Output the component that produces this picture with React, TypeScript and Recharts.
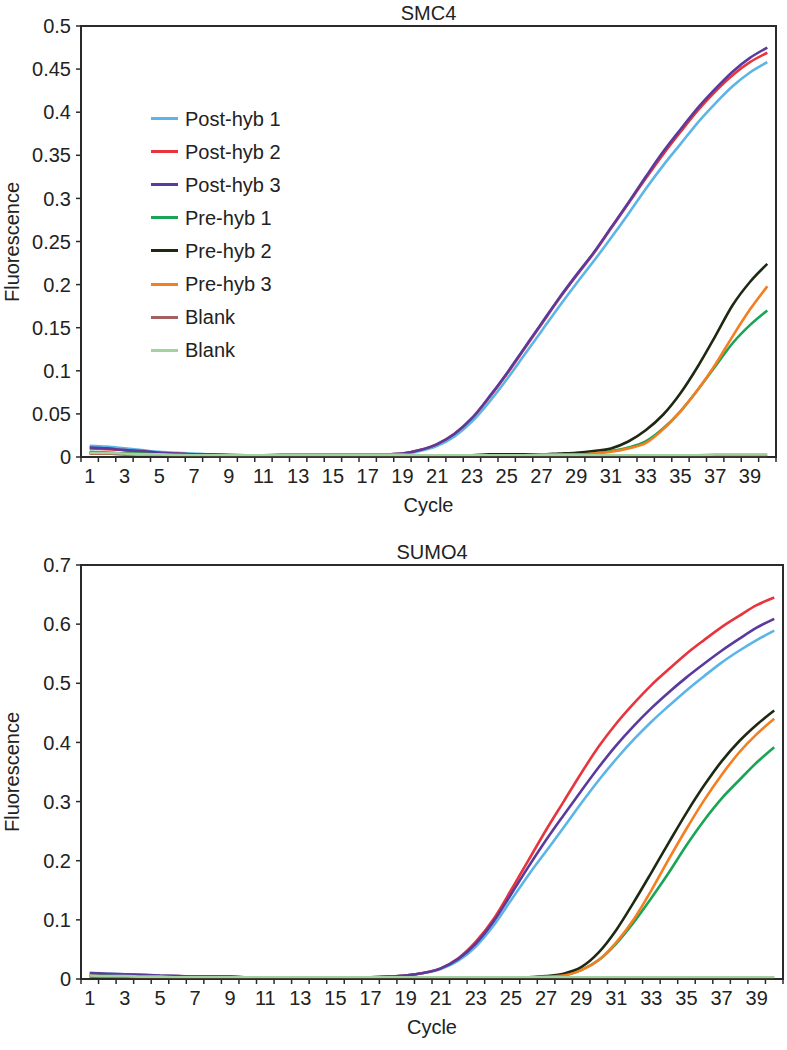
import React from 'react';
import { LineChart, Line, XAxis, YAxis, Legend, usePlotArea } from 'recharts';

// categories (PCR cycles)
const cycles = [1, 2, 3, 4, 5, 6, 7, 8, 9, 10, 11, 12, 13, 14, 15, 16, 17, 18, 19, 20,
  21, 22, 23, 24, 25, 26, 27, 28, 29, 30, 31, 32, 33, 34, 35, 36, 37, 38, 39, 40];
const cycleLabels = [1, 3, 5, 7, 9, 11, 13, 15, 17, 19, 21, 23, 25, 27, 29, 31, 33, 35, 37, 39];

const smc4Ticks = [0, 0.05, 0.1, 0.15, 0.2, 0.25, 0.3, 0.35, 0.4, 0.45, 0.5];
const sumo4Ticks = [0, 0.1, 0.2, 0.3, 0.4, 0.5, 0.6, 0.7];

// SMC4
const smc4PostHyb1 = [0.013, 0.012, 0.010, 0.008, 0.006, 0.005, 0.004, 0.003, 0.003, 0.002, 0.002, 0.002, 0.002, 0.002, 0.002, 0.002, 0.002, 0.003, 0.004, 0.007,
  0.013, 0.024, 0.041, 0.064, 0.090, 0.118, 0.146, 0.174, 0.201, 0.227, 0.254, 0.282, 0.311, 0.338, 0.363, 0.388, 0.410, 0.430, 0.446, 0.458];
const smc4PostHyb2 = [0.010, 0.009, 0.008, 0.006, 0.005, 0.004, 0.003, 0.003, 0.002, 0.002, 0.002, 0.002, 0.002, 0.002, 0.002, 0.002, 0.002, 0.003, 0.004, 0.008,
  0.015, 0.027, 0.045, 0.069, 0.096, 0.125, 0.154, 0.183, 0.210, 0.236, 0.265, 0.294, 0.323, 0.351, 0.377, 0.402, 0.424, 0.443, 0.458, 0.469];
const smc4PostHyb3 = [0.011, 0.010, 0.008, 0.007, 0.005, 0.004, 0.003, 0.003, 0.002, 0.002, 0.002, 0.002, 0.002, 0.002, 0.002, 0.002, 0.002, 0.003, 0.004, 0.008,
  0.015, 0.027, 0.045, 0.070, 0.097, 0.126, 0.155, 0.184, 0.211, 0.237, 0.266, 0.295, 0.325, 0.354, 0.380, 0.405, 0.427, 0.447, 0.463, 0.475];
const smc4PreHyb1 = [0.006, 0.005, 0.004, 0.004, 0.003, 0.003, 0.002, 0.002, 0.002, 0.002, 0.002, 0.002, 0.002, 0.002, 0.002, 0.002, 0.002, 0.002, 0.002, 0.002,
  0.002, 0.002, 0.002, 0.002, 0.002, 0.003, 0.003, 0.003, 0.003, 0.004, 0.007, 0.011, 0.018, 0.033, 0.053, 0.078, 0.105, 0.132, 0.153, 0.170];
const smc4PreHyb2 = [0.005, 0.005, 0.004, 0.003, 0.003, 0.002, 0.002, 0.002, 0.002, 0.002, 0.002, 0.002, 0.002, 0.002, 0.002, 0.002, 0.002, 0.002, 0.002, 0.002,
  0.002, 0.002, 0.002, 0.003, 0.003, 0.003, 0.003, 0.004, 0.005, 0.007, 0.010, 0.018, 0.031, 0.049, 0.074, 0.105, 0.140, 0.176, 0.203, 0.224];
const smc4PreHyb3 = [0.004, 0.004, 0.003, 0.003, 0.003, 0.002, 0.002, 0.002, 0.002, 0.002, 0.002, 0.003, 0.003, 0.003, 0.003, 0.003, 0.003, 0.003, 0.003, 0.002,
  0.002, 0.002, 0.002, 0.002, 0.002, 0.002, 0.003, 0.003, 0.003, 0.004, 0.006, 0.010, 0.016, 0.032, 0.053, 0.078, 0.107, 0.140, 0.171, 0.198];
const smc4Blank1 = [0.004, 0.004, 0.003, 0.003, 0.002, 0.002, 0.002, 0.001, 0.001, 0.001, 0.001, 0.001, 0.001, 0.001, 0.001, 0.001, 0.001, 0.001, 0.001, 0.001,
  0.001, 0.001, 0.001, 0.001, 0.001, 0.001, 0.001, 0.001, 0.001, 0.001, 0.001, 0.001, 0.001, 0.001, 0.001, 0.001, 0.001, 0.001, 0.001, 0.001];
const smc4Blank2 = [0.005, 0.005, 0.004, 0.003, 0.003, 0.002, 0.002, 0.002, 0.002, 0.002, 0.002, 0.002, 0.002, 0.002, 0.002, 0.002, 0.002, 0.002, 0.002, 0.002,
  0.002, 0.002, 0.002, 0.002, 0.002, 0.002, 0.002, 0.002, 0.002, 0.002, 0.002, 0.002, 0.002, 0.002, 0.002, 0.002, 0.003, 0.003, 0.003, 0.003];

// SUMO4
const sumo4PostHyb1 = [0.010, 0.009, 0.008, 0.007, 0.006, 0.005, 0.004, 0.004, 0.004, 0.003, 0.003, 0.003, 0.003, 0.003, 0.003, 0.003, 0.003, 0.004, 0.006, 0.010,
  0.017, 0.031, 0.055, 0.090, 0.133, 0.176, 0.216, 0.256, 0.297, 0.336, 0.372, 0.405, 0.435, 0.462, 0.488, 0.512, 0.535, 0.555, 0.573, 0.589];
const sumo4PostHyb2 = [0.009, 0.008, 0.007, 0.006, 0.005, 0.005, 0.004, 0.004, 0.004, 0.003, 0.003, 0.003, 0.003, 0.003, 0.003, 0.003, 0.003, 0.004, 0.006, 0.010,
  0.018, 0.035, 0.063, 0.101, 0.150, 0.201, 0.252, 0.300, 0.348, 0.393, 0.432, 0.466, 0.497, 0.524, 0.550, 0.573, 0.595, 0.614, 0.632, 0.645];
const sumo4PostHyb3 = [0.010, 0.009, 0.008, 0.007, 0.006, 0.005, 0.004, 0.004, 0.004, 0.003, 0.003, 0.003, 0.003, 0.003, 0.003, 0.003, 0.003, 0.004, 0.006, 0.010,
  0.018, 0.034, 0.060, 0.097, 0.143, 0.190, 0.235, 0.277, 0.318, 0.358, 0.395, 0.428, 0.458, 0.485, 0.510, 0.533, 0.555, 0.575, 0.594, 0.609];
const sumo4PreHyb1 = [0.005, 0.005, 0.004, 0.004, 0.003, 0.003, 0.003, 0.003, 0.003, 0.002, 0.002, 0.002, 0.002, 0.002, 0.002, 0.002, 0.002, 0.002, 0.002, 0.002,
  0.002, 0.002, 0.002, 0.002, 0.002, 0.002, 0.003, 0.006, 0.015, 0.032, 0.060, 0.096, 0.137, 0.180, 0.226, 0.268, 0.305, 0.336, 0.366, 0.392];
const sumo4PreHyb2 = [0.005, 0.005, 0.004, 0.004, 0.003, 0.003, 0.003, 0.003, 0.003, 0.002, 0.002, 0.002, 0.002, 0.002, 0.002, 0.002, 0.002, 0.002, 0.002, 0.002,
  0.002, 0.002, 0.002, 0.002, 0.002, 0.003, 0.005, 0.009, 0.020, 0.045, 0.083, 0.130, 0.180, 0.231, 0.281, 0.327, 0.368, 0.402, 0.430, 0.454];
const sumo4PreHyb3 = [0.004, 0.004, 0.004, 0.003, 0.003, 0.003, 0.003, 0.003, 0.002, 0.002, 0.002, 0.002, 0.002, 0.002, 0.002, 0.002, 0.002, 0.002, 0.002, 0.002,
  0.002, 0.002, 0.002, 0.002, 0.002, 0.003, 0.004, 0.006, 0.015, 0.032, 0.062, 0.101, 0.150, 0.203, 0.254, 0.302, 0.345, 0.383, 0.414, 0.440];
const sumo4Blank1 = [0.004, 0.004, 0.003, 0.003, 0.003, 0.002, 0.002, 0.002, 0.002, 0.002, 0.002, 0.002, 0.002, 0.002, 0.002, 0.002, 0.002, 0.002, 0.002, 0.002,
  0.002, 0.002, 0.002, 0.002, 0.002, 0.002, 0.002, 0.002, 0.002, 0.002, 0.002, 0.002, 0.002, 0.002, 0.002, 0.002, 0.002, 0.002, 0.002, 0.002];
const sumo4Blank2 = [0.006, 0.005, 0.005, 0.004, 0.004, 0.003, 0.003, 0.003, 0.003, 0.003, 0.003, 0.003, 0.003, 0.003, 0.003, 0.003, 0.003, 0.003, 0.003, 0.003,
  0.003, 0.003, 0.003, 0.003, 0.003, 0.003, 0.003, 0.003, 0.003, 0.003, 0.003, 0.003, 0.003, 0.003, 0.003, 0.003, 0.003, 0.003, 0.003, 0.003];

const seriesNames = ['Post-hyb 1', 'Post-hyb 2', 'Post-hyb 3', 'Pre-hyb 1', 'Pre-hyb 2', 'Pre-hyb 3', 'Blank', 'Blank'];
const seriesColors = ['#5bb5e6', '#e8343c', '#5a3a9c', '#19a556', '#1e2912', '#f47e20', '#a45f60', '#a2d39e'];
const seriesKeys = ['s0', 's1', 's2', 's3', 's4', 's5', 's6', 's7'];

const buildRows = (series: number[][]) =>
  cycles.map((c, i) => {
    const row: Record<string, number> = { cycle: c };
    series.forEach((s, k) => { row[seriesKeys[k]] = s[i]; });
    return row;
  });

const smc4Data = buildRows([smc4PostHyb1, smc4PostHyb2, smc4PostHyb3, smc4PreHyb1, smc4PreHyb2, smc4PreHyb3, smc4Blank1, smc4Blank2]);
const sumo4Data = buildRows([sumo4PostHyb1, sumo4PostHyb2, sumo4PostHyb3, sumo4PreHyb1, sumo4PreHyb2, sumo4PreHyb3, sumo4Blank1, sumo4Blank2]);

// tick marks sit on band edges, labels on odd cycle centres
const bandEdges = [...cycles.map((c) => c - 0.5), cycles[cycles.length - 1] + 0.5];
const xTicks = [...bandEdges, ...cycleLabels].sort((a, b) => a - b);
const xDomain: [number, number] = [bandEdges[0], bandEdges[bandEdges.length - 1]];

const INK = '#222';
const AXIS = '#2b2b2b';
const FONT = '"Liberation Sans", Arial, Helvetica, sans-serif';
const axisLineStyle = { stroke: AXIS, strokeWidth: 1.5 };

const CycleTick = (props: any) => {
  const { x, y, payload } = props;
  const v = payload.value;
  if (Number.isInteger(v)) {
    return (
      <text x={x} y={y} dy={21} textAnchor="middle" fontSize={20} fill={INK} fontFamily={FONT}>
        {v}
      </text>
    );
  }
  return <line x1={x} x2={x} y1={y - 5} y2={y} stroke={AXIS} strokeWidth={1.5} />;
};

const fmtY = (v: number) => String(+v.toFixed(2));

// box round the plot area, taken from the chart's own layout
const PlotFrame = () => {
  const area = usePlotArea();
  if (!area) return null;
  return (
    <rect x={area.x} y={area.y} width={area.width} height={area.height}
      fill="none" stroke={AXIS} strokeWidth={2} />
  );
};

const LegendBox = () => (
  <div style={{ fontFamily: FONT }}>
    {seriesNames.map((name, i) => (
      <div key={i} style={{ display: 'flex', alignItems: 'center', height: 33.1 }}>
        <div style={{ width: 27, height: 3, background: seriesColors[i], marginRight: 7 }} />
        <span style={{ fontSize: 20, color: INK, lineHeight: '24px' }}>{name}</span>
      </div>
    ))}
  </div>
);

const renderLines = () =>
  seriesKeys.map((k, i) => (
    <Line
      key={k}
      type="monotone"
      dataKey={k}
      name={seriesNames[i]}
      stroke={seriesColors[i]}
      strokeWidth={2.6}
      dot={false}
      activeDot={false}
      isAnimationActive={false}
    />
  ));

const textStyle: React.CSSProperties = {
  position: 'absolute',
  fontFamily: FONT,
  fontSize: 20,
  lineHeight: '24px',
  color: INK,
  textAlign: 'center',
};

const App: React.FC = () => {
  return (
    <div style={{ position: 'absolute', left: 0, top: 0, width: 787, height: 1050, background: '#fff' }}>
      {/* SMC4 */}
      <div style={{ position: 'absolute', left: 0, top: 0 }}>
        <LineChart width={787} height={520} data={smc4Data} margin={{ top: 26, right: 11, bottom: 0, left: 0 }}>
          <XAxis
            dataKey="cycle"
            type="number"
            domain={xDomain}
            ticks={xTicks}
            interval={0}
            height={63}
            tick={<CycleTick />}
            tickLine={false}
            tickSize={5}
            tickMargin={0}
            axisLine={axisLineStyle}
          />
          <YAxis
            type="number"
            domain={[0, 0.5]}
            ticks={smc4Ticks}
            interval={0}
            width={81}
            tickFormatter={fmtY}
            tick={{ fontSize: 20, fill: INK, fontFamily: FONT }}
            tickSize={5}
            tickMargin={5}
            tickLine={axisLineStyle}
            axisLine={axisLineStyle}
          />
          <Legend
            layout="vertical"
            align="center"
            verticalAlign="middle"
            wrapperStyle={{ left: 151, top: 102, width: 'auto' }}
            content={() => <LegendBox />}
          />
          {renderLines()}
          <PlotFrame />
        </LineChart>
        <div style={{ ...textStyle, left: 81, width: 695, top: 1 }}>SMC4</div>
        <div style={{ ...textStyle, left: 81, width: 695, top: 493 }}>Cycle</div>
        <div style={{ ...textStyle, left: -88, width: 200, top: 229.5, transform: 'rotate(-90deg)' }}>Fluorescence</div>
      </div>

      {/* SUMO4 */}
      <div style={{ position: 'absolute', left: 0, top: 520 }}>
        <LineChart width={787} height={530} data={sumo4Data} margin={{ top: 45, right: 4, bottom: 0, left: 0 }}>
          <XAxis
            dataKey="cycle"
            type="number"
            domain={xDomain}
            ticks={xTicks}
            interval={0}
            height={71}
            tick={<CycleTick />}
            tickLine={false}
            tickSize={5}
            tickMargin={0}
            axisLine={axisLineStyle}
          />
          <YAxis
            type="number"
            domain={[0, 0.7]}
            ticks={sumo4Ticks}
            interval={0}
            width={81}
            tickFormatter={fmtY}
            tick={{ fontSize: 20, fill: INK, fontFamily: FONT }}
            tickSize={5}
            tickMargin={5}
            tickLine={axisLineStyle}
            axisLine={axisLineStyle}
          />
          {renderLines()}
          <PlotFrame />
        </LineChart>
        <div style={{ ...textStyle, left: 81, width: 702, top: 20 }}>SUMO4</div>
        <div style={{ ...textStyle, left: 81, width: 702, top: 495 }}>Cycle</div>
        <div style={{ ...textStyle, left: -88, width: 200, top: 240, transform: 'rotate(-90deg)' }}>Fluorescence</div>
      </div>
    </div>
  );
};

export default App;
